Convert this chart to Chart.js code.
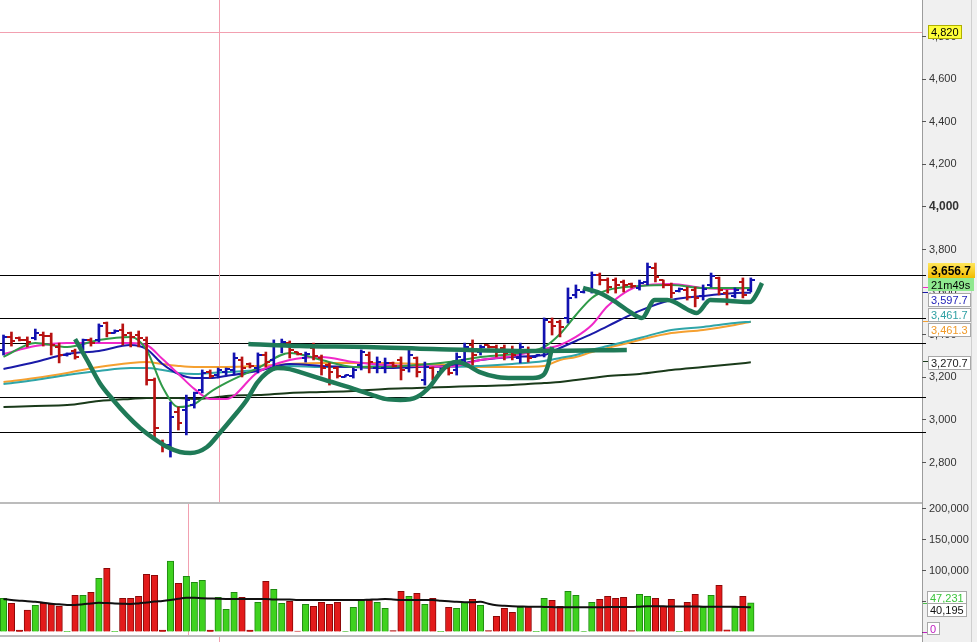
<!DOCTYPE html>
<html>
<head>
<meta charset="utf-8">
<script src="https://cdn.jsdelivr.net/npm/chart.js@4.4.0/dist/chart.umd.min.js"></script>
<style>
    html, body { margin: 0; padding: 0; background: #fff; }
    #wrap { position: relative; width: 977px; height: 642px; overflow: hidden; }
    #priceChart { position: absolute; left: 0; top: 0; }
    #volChart { position: absolute; left: 0; top: 502px; }
</style>
</head>
<body>
<div id="wrap">
    <canvas id="priceChart" width="977" height="502"></canvas>
    <canvas id="volChart" width="977" height="140"></canvas>
</div>
<script>
// ---- Daily bars (index 1..95) ----
const opens = [3329,3390,3385,3376,3385,3399,3394,3343,3305,3324,3338,3376,3376,3455,3408,3423,3408,3399,3376,3188,
    2897,2883,3038,3047,3070,3141,3225,3211,3225,3235,3282,3263,3244,3305,3282,3352,3361,3319,3291,3338,
    3291,3258,3244,3202,3207,3258,3305,3244,3244,3268,3282,3244,3291,3188,3244,3225,3244,3235,3282,3352,
    3319,3350,3343,3338,3329,3291,3329,3296,3319,3460,3460,3479,3587,3601,3610,3681,3657,3657,3648,3638,
    3620,3648,3714,3657,3634,3606,3610,3610,3582,3634,3667,3596,3582,3648,3610];
const highs = [3399,3413,3390,3390,3427,3413,3408,3361,3315,3333,3380,3385,3451,3460,3423,3451,3413,3418,3390,3197,
    2906,3084,3061,3117,3131,3235,3235,3244,3244,3315,3296,3268,3315,3319,3376,3380,3371,3319,3319,3361,
    3305,3268,3249,3211,3244,3329,3319,3296,3291,3272,3296,3329,3296,3272,3249,3244,3249,3315,3361,3376,
    3352,3352,3352,3352,3347,3361,3343,3305,3479,3479,3469,3620,3634,3610,3695,3690,3667,3667,3657,3643,
    3657,3737,3737,3657,3643,3620,3624,3624,3634,3690,3671,3610,3620,3667,3667];
const lows = [3305,3347,3371,3343,3376,3347,3305,3268,3300,3286,3329,3347,3366,3390,3408,3352,3343,3343,3164,2916,
    2850,2826,2953,2930,3056,3127,3197,3197,3211,3211,3202,3244,3221,3249,3235,3315,3291,3305,3272,3282,
    3211,3164,3197,3202,3197,3235,3221,3221,3221,3249,3188,3225,3202,3164,3188,3221,3211,3211,3258,3258,
    3305,3338,3296,3282,3282,3268,3272,3296,3296,3399,3390,3455,3573,3596,3596,3634,3596,3596,3601,3620,
    3610,3634,3648,3620,3573,3601,3563,3531,3563,3624,3587,3540,3573,3573,3601];
const closes = [3390,3371,3376,3366,3408,3394,3352,3305,3312,3296,3376,3361,3441,3408,3418,3399,3390,3385,3188,2962,
    2878,3014,2986,3094,3127,3221,3207,3235,3239,3291,3244,3254,3305,3272,3352,3366,3329,3310,3310,3300,
    3244,3225,3207,3211,3235,3319,3272,3272,3268,3254,3235,3305,3225,3249,3197,3239,3221,3296,3343,3305,
    3343,3343,3319,3315,3305,3343,3291,3305,3469,3441,3437,3573,3610,3610,3681,3657,3624,3634,3634,3629,
    3643,3718,3671,3634,3596,3615,3577,3573,3615,3676,3610,3563,3610,3587,3656.7];
const volumes = [54800,46600,3000,35800,43400,46600,45000,42300,1000,59600,59600,64500,87300,103500,1000,54800,54800,58000,93800,92200,
    3000,115400,79200,90500,80800,84000,3000,56400,36900,64500,56400,3000,48300,82400,69400,46600,49900,1500,45000,41800,
    48300,45000,48300,500,40100,51500,51500,48300,38500,2500,66100,58000,62900,45000,54800,1000,40100,38500,48300,53200,
    43400,2500,25500,38500,32000,40100,41800,1000,54800,51500,41800,66100,59600,500,48300,53200,58000,54800,56400,2500,
    61300,58000,54800,41800,53200,1000,48300,61300,40100,59600,75900,3500,40100,58000,47231];
const volumeAvg = [53700,52000,51000,50000,49300,47500,46000,45000,44000,44000,45000,46500,47700,47000,46500,46000,45500,46500,48000,49500,
    50400,52000,54000,55500,55800,55000,54500,54000,53700,53700,53700,53700,53700,53700,53000,53000,53000,52000,52000,52000,
    52000,52000,52000,52000,52000,52000,52500,53000,53700,53000,52000,52000,52000,52000,52000,51000,50000,49000,48500,48500,
    49300,46000,43500,42500,41800,41500,41200,41200,40800,40500,40200,40100,40100,40100,40100,40100,40500,40500,40500,40500,
    41200,41800,41800,41800,41500,41500,41500,41500,41200,41200,41200,41200,41000,40500,40195];

// ---- Moving averages, read at these bar indexes ----
const maKnots   = [1,5,9,13,17,19,21,23,25,27,29,33,37,41,45,49,53,57,61,65,69,71,73,75,77,81,85,89,93,95];
const maFast    = [3296,3362,3343,3376,3390,3329,3155,3061,3075,3131,3174,3244,3315,3282,3249,3249,3258,3272,3296,3310,3343,3404,3493,3573,3610,3629,3634,3620,3620,3620];
const maMagenta = [3310,3347,3362,3362,3362,3352,3286,3216,3146,3099,3099,3225,3282,3296,3272,3258,3254,3249,3282,3300,3333,3352,3390,3446,3535,3629,3639,3620,3615,3620];
const maBlue    = [3239,3272,3310,3324,3352,3333,3263,3216,3197,3197,3207,3230,3263,3254,3249,3244,3249,3254,3282,3296,3305,3338,3371,3404,3441,3512,3563,3582,3596,3597.7];
const maTeal    = [3169,3188,3211,3230,3244,3244,3235,3221,3216,3221,3225,3235,3254,3249,3249,3254,3249,3249,3254,3263,3277,3291,3305,3329,3347,3385,3423,3437,3455,3461.7];
const maOrange  = [3178,3197,3221,3249,3268,3272,3263,3254,3249,3249,3249,3254,3263,3268,3268,3268,3263,3258,3249,3249,3254,3282,3296,3319,3338,3376,3408,3423,3446,3461.3];
const maLong    = [3061,3066,3070,3089,3099,3103,3103,3103,3099,3103,3113,3117,3127,3131,3136,3146,3150,3155,3160,3164,3174,3178,3188,3197,3207,3216,3235,3249,3263,3270.7];

// ---- Hand drawn marks (bar index, price) ----
const drawUx = [10.0,11.5,13.1,14.8,16.5,18.2,19.8,21.6,23.2,24.5,26.6,28.2,29.9,31.6,32.9,34.1,35.5,37.0,38.6,41.4,
    44.8,47.4,49.0,50.9,53.0,54.7,55.9,56.8,58.0,59.3,60.9,63.1,65.1,67.6,68.9,69.5,70.0];
const drawUy = [3380,3282,3174,3094,3023,2962,2916,2873,2850,2845,2873,2939,3014,3094,3174,3221,3244,3239,3221,3188,
    3150,3117,3099,3094,3108,3160,3221,3254,3272,3258,3225,3202,3197,3197,3211,3258,3343];
const drawFlatX = [31.8,38.3,46.7,55.0,67.6,79.4];
const drawFlatY = [3357,3347,3343,3333,3324,3329];
const drawZigX = [73.9,76.0,78.2,79.8,81.3,82.9,84.5,87.4,88.2,89.9,92.4,94.9,95.8,96.4];
const drawZigY = [3620,3596,3549,3507,3479,3563,3563,3512,3502,3563,3559,3554,3596,3643];

// horizontal levels, cursor and countdown
const levels = [3681,3479,3362,3108,2944];
const cursorPrice = 4820;
const cursorBar = 28.1;
const volCursorBar = 24.2;
const countdown = '21m49s';
const volOscValue = 0;

// axis ranges and tick values
const X_MIN = 0.56, X_MAX = 116.53;
const P_MIN = 2615, P_MAX = 4971.8;
const V_MIN = -4878, V_MAX = 211382;
const priceTicks = [2800,3000,3200,3400,3600,3800,4000,4200,4400,4600,4800];
const volTicks = [0,50000,100000,150000,200000];
const AXIS_W = 55;
const FONT = '"Liberation Sans", Arial, sans-serif';

const UP = '#1212b0', DOWN = '#b81212';
const isUp = i => closes[i] >= opens[i];
const fmt = (v, d) => v.toLocaleString('en-US', { minimumFractionDigits: d || 0, maximumFractionDigits: d || 0 });

// small canvases used as point styles for open (left) / close (right) ticks
function tickImage(color, left) {
    const c = document.createElement('canvas');
    c.width = 8; c.height = 2;
    const g = c.getContext('2d');
    g.fillStyle = color;
    g.fillRect(left ? 0 : 4, 0, 4, 2);
    return c;
}
const openUp = tickImage(UP, true), openDown = tickImage(DOWN, true);
const closeUp = tickImage(UP, false), closeDown = tickImage(DOWN, false);

const pts = (xs, ys) => xs.map((x, i) => ({ x: x, y: ys[i] }));
const barNo = opens.map((_, i) => i + 1);

function lineSet(label, xs, ys, color, width, order) {
    return {
        type: 'line', label: label, data: pts(xs, ys), borderColor: color, borderWidth: width,
        pointRadius: 0, cubicInterpolationMode: 'monotone', order: order
    };
}

// draws a value tag in the right axis
function drawTag(ctx, x, yc, text, o) {
    ctx.font = o.font || ('11px ' + FONT);
    const w = o.w || Math.ceil(ctx.measureText(text).width) + 6;
    const h = o.h || 14;
    const y = Math.round(yc - h / 2);
    if (o.grad) {
        const gr = ctx.createLinearGradient(0, y, 0, y + h);
        gr.addColorStop(0, o.grad[0]); gr.addColorStop(1, o.grad[1]);
        ctx.fillStyle = gr;
    } else {
        ctx.fillStyle = o.bg || '#fff';
    }
    ctx.fillRect(x, y, w, h);
    if (o.border) {
        ctx.strokeStyle = o.border; ctx.lineWidth = 1;
        ctx.strokeRect(x + 0.5, y + 0.5, w - 1, h - 1);
    }
    ctx.fillStyle = o.color || '#000';
    ctx.textAlign = 'left'; ctx.textBaseline = 'middle';
    ctx.fillText(text, x + 3, y + h / 2 + 1);
}

// grey axis panel at the right
const axisPanel = {
    id: 'axisPanel',
    beforeDraw(chart) {
        const { ctx, chartArea: a, width, height } = chart;
        ctx.save();
        ctx.fillStyle = '#fff';
        ctx.fillRect(0, 0, width, height);
        ctx.fillStyle = '#f0f0f0';
        ctx.fillRect(a.right, 0, width - a.right, height);
        ctx.strokeStyle = '#9c9c9c'; ctx.lineWidth = 1;
        ctx.beginPath(); ctx.moveTo(a.right + 0.5, 0); ctx.lineTo(a.right + 0.5, height); ctx.stroke();
        ctx.strokeStyle = '#cfcfcf';
        ctx.beginPath(); ctx.moveTo(971.5, 0); ctx.lineTo(971.5, height); ctx.stroke();
        ctx.restore();
    }
};

// level lines, cursor lines + value tags for the price panel
const priceDecor = {
    id: 'priceDecor',
    beforeDatasetsDraw(chart) {
        const { ctx, chartArea: a, scales } = chart;
        const cx = Math.round(scales.x.getPixelForValue(cursorBar)) + 0.5;
        const cy = Math.round(scales.y.getPixelForValue(cursorPrice)) + 0.5;
        ctx.save();
        ctx.lineWidth = 1;
        ctx.strokeStyle = '#000';
        ctx.beginPath();
        levels.forEach(lv => {
            const ly = Math.round(scales.y.getPixelForValue(lv)) + 0.5;
            ctx.moveTo(a.left, ly); ctx.lineTo(a.right + 4, ly);
        });
        ctx.stroke();
        ctx.strokeStyle = '#f2a0b0';
        ctx.beginPath();
        ctx.moveTo(cx, a.top); ctx.lineTo(cx, a.bottom);
        ctx.moveTo(a.left, cy); ctx.lineTo(a.right, cy);
        ctx.stroke();
        ctx.restore();
    },
    afterDraw(chart) {
        const { ctx, chartArea: a, scales } = chart;
        const y = v => scales.y.getPixelForValue(v);
        const tx = a.right + 6;
        const last = arr => arr[arr.length - 1];
        ctx.save();
        // small coloured ticks where each line ends
        [[last(maFast), '#2f9a48'], [last(maMagenta), '#f028c8'], [last(maBlue), '#1a1aa8'],
         [last(maTeal), '#2fa5a8'], [last(maOrange), '#f5a030'], [last(maLong), '#1a3a1a']].forEach(t => {
            ctx.fillStyle = t[1];
            ctx.fillRect(a.right + 1, Math.round(y(t[0])) - 1, 5, 1);
        });
        drawTag(ctx, tx, y(cursorPrice), fmt(cursorPrice), { bg: '#ffff3a', border: '#b0b000', color: '#000' });
        drawTag(ctx, tx, y(last(closes)) - 10, fmt(last(closes), 1),
            { grad: ['#ffe65a', '#f2bc00'], font: 'bold 12px ' + FONT, h: 15, color: '#000' });
        drawTag(ctx, tx, y(last(closes)) + 4, countdown, { bg: '#8fe88f', color: '#000', h: 13 });
        drawTag(ctx, tx, y(last(maBlue)) + 7, fmt(last(maBlue), 1), { border: '#a8a8a8', color: '#2424b8' });
        drawTag(ctx, tx, y(last(maTeal)) - 7, fmt(last(maTeal), 1), { border: '#a8a8a8', color: '#2fa0a3' });
        drawTag(ctx, tx, y(last(maOrange)) + 8, fmt(last(maOrange), 1), { border: '#a8a8a8', color: '#f09a28' });
        drawTag(ctx, tx, y(last(maLong)) + 1, fmt(last(maLong), 1), { border: '#a8a8a8', color: '#222' });
        ctx.restore();
    }
};

const volDecor = {
    id: 'volDecor',
    beforeDatasetsDraw(chart) {
        const { ctx, chartArea: a, scales, height } = chart;
        const vx = Math.round(scales.x.getPixelForValue(volCursorBar)) + 0.5;
        const px = Math.round(scales.x.getPixelForValue(cursorBar)) + 0.5;
        ctx.save();
        ctx.strokeStyle = '#f2a0b0'; ctx.lineWidth = 1;
        ctx.beginPath();
        ctx.moveTo(vx, a.top); ctx.lineTo(vx, a.bottom);
        ctx.moveTo(px, a.bottom); ctx.lineTo(px, height);
        ctx.stroke();
        ctx.restore();
    },
    afterDraw(chart) {
        const { ctx, chartArea: a, scales } = chart;
        const y = v => scales.y.getPixelForValue(v);
        const tx = a.right + 5;
        const lastVol = volumes[volumes.length - 1];
        const lastAvg = volumeAvg[volumeAvg.length - 1];
        ctx.save();
        // panel borders
        ctx.fillStyle = '#bcbcbc';
        ctx.fillRect(0, 0, a.right, 2);
        ctx.fillRect(0, a.bottom, a.right, 2);
        ctx.fillStyle = '#4cc44c'; ctx.fillRect(a.right + 1, Math.round(y(lastVol)), 4, 1);
        ctx.fillStyle = '#c020c0'; ctx.fillRect(a.right + 1, Math.round(y(volOscValue)), 4, 1);
        drawTag(ctx, tx, y(lastVol) - 5, fmt(lastVol), { border: '#a8a8a8', color: '#3cc43c' });
        drawTag(ctx, tx, y(lastAvg) + 3, fmt(lastAvg), { border: '#a8a8a8', color: '#111' });
        drawTag(ctx, tx, y(volOscValue) - 4, String(volOscValue), { border: '#a8a8a8', color: '#c020c0', h: 13 });
        ctx.restore();
    }
};

function rightAxis(min, max, tickValues, labelCb, boldValue) {
    return {
        position: 'right', min: min, max: max,
        afterBuildTicks(scale) { scale.ticks = tickValues.map(v => ({ value: v })); },
        afterFit(scale) { scale.width = AXIS_W; scale.paddingTop = 0; scale.paddingBottom = 0; },
        border: { display: false },
        grid: { display: true, drawOnChartArea: false, drawTicks: true, tickLength: 4, tickColor: '#555' },
        ticks: {
            padding: 3, color: '#333',
            callback: labelCb,
            font: ctx => (ctx.tick && ctx.tick.value === boldValue)
                ? { family: FONT, size: 12, weight: 'bold' }
                : { family: FONT, size: 11 }
        }
    };
}

const xAxis = { type: 'linear', min: X_MIN, max: X_MAX, offset: false, display: false };

// ---- Price panel ----
const priceSets = [
    lineSet('drawU', drawUx, drawUy, '#1f7a57', 4.5, 0),
    lineSet('drawFlat', drawFlatX, drawFlatY, '#1f7a57', 4.5, 0),
    lineSet('drawZig', drawZigX, drawZigY, '#1f7a57', 4.5, 0),
    {
        type: 'line', label: 'open', showLine: false, order: 1, pointRadius: 3,
        data: barNo.map((x, i) => ({ x: x, y: opens[i] })),
        pointStyle: c => isUp(c.dataIndex) ? openUp : openDown
    },
    {
        type: 'line', label: 'close', showLine: false, order: 1, pointRadius: 3,
        data: barNo.map((x, i) => ({ x: x, y: closes[i] })),
        pointStyle: c => isUp(c.dataIndex) ? closeUp : closeDown
    },
    {
        type: 'bar', label: 'range', order: 2, barThickness: 2, borderWidth: 0,
        data: barNo.map((x, i) => ({ x: x, y: [lows[i], highs[i]] })),
        backgroundColor: c => isUp(c.dataIndex) ? UP : DOWN
    },
    lineSet('fast', maKnots, maFast, '#2f9a48', 2, 3),
    lineSet('magenta', maKnots, maMagenta, '#f028c8', 2, 3),
    lineSet('blue', maKnots, maBlue, '#1a1aa8', 2, 3),
    lineSet('teal', maKnots, maTeal, '#2fa5a8', 2, 4),
    lineSet('orange', maKnots, maOrange, '#f5a030', 2, 4),
    lineSet('long', maKnots, maLong, '#1a3a1a', 2, 4)
];

new Chart(document.getElementById('priceChart'), {
    type: 'bar',
    data: { datasets: priceSets },
    options: {
        responsive: false, animation: false,
        layout: { padding: 0, autoPadding: false },
        plugins: { legend: { display: false }, tooltip: { enabled: false } },
        scales: {
            x: xAxis,
            y: rightAxis(P_MIN, P_MAX, priceTicks, v => fmt(v), 4000)
        }
    },
    plugins: [axisPanel, priceDecor]
});

// ---- Volume panel ----
new Chart(document.getElementById('volChart'), {
    type: 'bar',
    data: {
        datasets: [
            {
                type: 'line', label: 'avg', order: 0, borderColor: '#111', borderWidth: 2,
                pointRadius: 0, cubicInterpolationMode: 'monotone',
                data: barNo.map((x, i) => ({ x: x, y: volumeAvg[i] }))
            },
            {
                type: 'bar', label: 'volume', order: 1, barThickness: 6.5, borderWidth: 1,
                data: barNo.map((x, i) => ({ x: x, y: volumes[i] })),
                backgroundColor: c => isUp(c.dataIndex) ? '#3fd21f' : '#e31b1b',
                borderColor: c => isUp(c.dataIndex) ? '#1f8a10' : '#8c0808'
            }
        ]
    },
    options: {
        responsive: false, animation: false,
        layout: { padding: { top: 0, bottom: 7, left: 0, right: 0 }, autoPadding: false },
        plugins: { legend: { display: false }, tooltip: { enabled: false } },
        scales: {
            x: xAxis,
            y: rightAxis(V_MIN, V_MAX, volTicks, v => (v >= 100000 ? fmt(v) : ''), -1)
        }
    },
    plugins: [axisPanel, volDecor]
});
</script>
</body>
</html>
